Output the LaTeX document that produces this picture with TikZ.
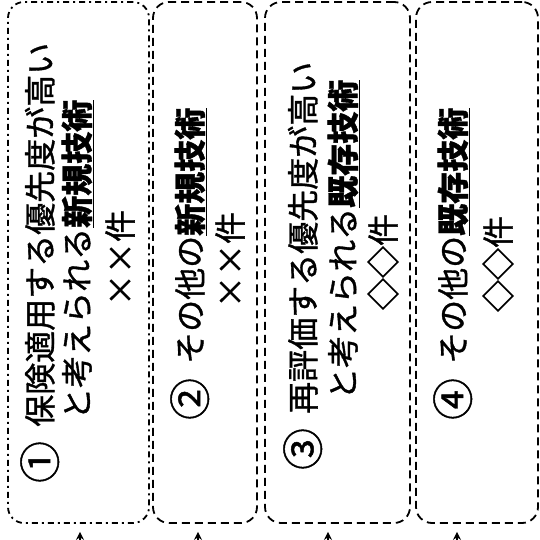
\documentclass[tikz,border=0pt]{standalone}
\usepackage{fontspec}
\usepackage{graphicx}
\newfontfamily\jpfont[FakeBold=1.1]{Noto Sans CJK JP}
\usetikzlibrary{arrows.meta}
\newcommand\fw[1]{\makebox[1em]{#1}}
\newcommand\cn[1]{\raisebox{-0.11em}{\scalebox{1.3}{#1}}\hspace{0.45em}}

\begin{document}
\begin{tikzpicture}[x=1pt,y=1pt]
  \tikzstyle{every node}=[inner sep=0,font=\jpfont\fontsize{32}{36}\selectfont]
  \tikzstyle{grp}=[draw,rounded corners=16,line width=1.8,dash pattern=on 8pt off 5pt]
  \tikzstyle{txt}=[rotate=90,anchor=base west]
  \tikzstyle{cnt}=[rotate=90,anchor=center]
  \tikzstyle{up}=[-{Stealth[length=8pt,width=8pt]},line width=1.4,shorten >=8]
  \useasboundingbox (0,0) rectangle (539,540);
  {
    % new techniques
    \node[grp,minimum width=141,minimum height=521,dash pattern=on 6pt off 4pt on 2pt off 4pt] (b1) at (78.5,277.5) {};
    \node[grp,minimum width=104,minimum height=521] (b2) at (205,277.5) {};
    \node[txt] (t1a) at (52,57) {\cn{①}保険適用する優先度が高い};
    \node[txt] (t1b) at (89,120) {と考えられる\underline{\textbf{新規技術}}};
    \node[cnt] (t1c) at (120,282) {\fw{×}\fw{×}件};
    \node[txt] (t2a) at (202,120) {\cn{②}その他の\underline{\textbf{新規技術}}};
    \node[cnt] (t2b) at (230,280) {\fw{×}\fw{×}件};

    % existing techniques
    \node[grp,minimum width=145,minimum height=521] (b3) at (337.5,277.5) {};
    \node[grp,minimum width=122,minimum height=521] (b4) at (477,277.5) {};
    \node[txt] (t3a) at (315,70) {\cn{③}再評価する優先度が高い};
    \node[txt] (t3b) at (355,140) {と考えられる\underline{\textbf{既存技術}}};
    \node[cnt] (t3c) at (383,278) {◇◇件};
    \node[txt] (t4a) at (465,120) {\cn{④}その他の\underline{\textbf{既存技術}}};
    \node[cnt] (t4b) at (498,276) {◇◇件};

    \coordinate (a1) at (80,0);
    \coordinate (a2) at (198,0);
    \coordinate (a3) at (328,0);
    \coordinate (a4) at (457,0);
    \draw[up] (a1) -- (a1 |- b1.south);
    \draw[up] (a2) -- (a2 |- b2.south);
    \draw[up] (a3) -- (a3 |- b3.south);
    \draw[up] (a4) -- (a4 |- b4.south);
  }
\end{tikzpicture}
\end{document}
